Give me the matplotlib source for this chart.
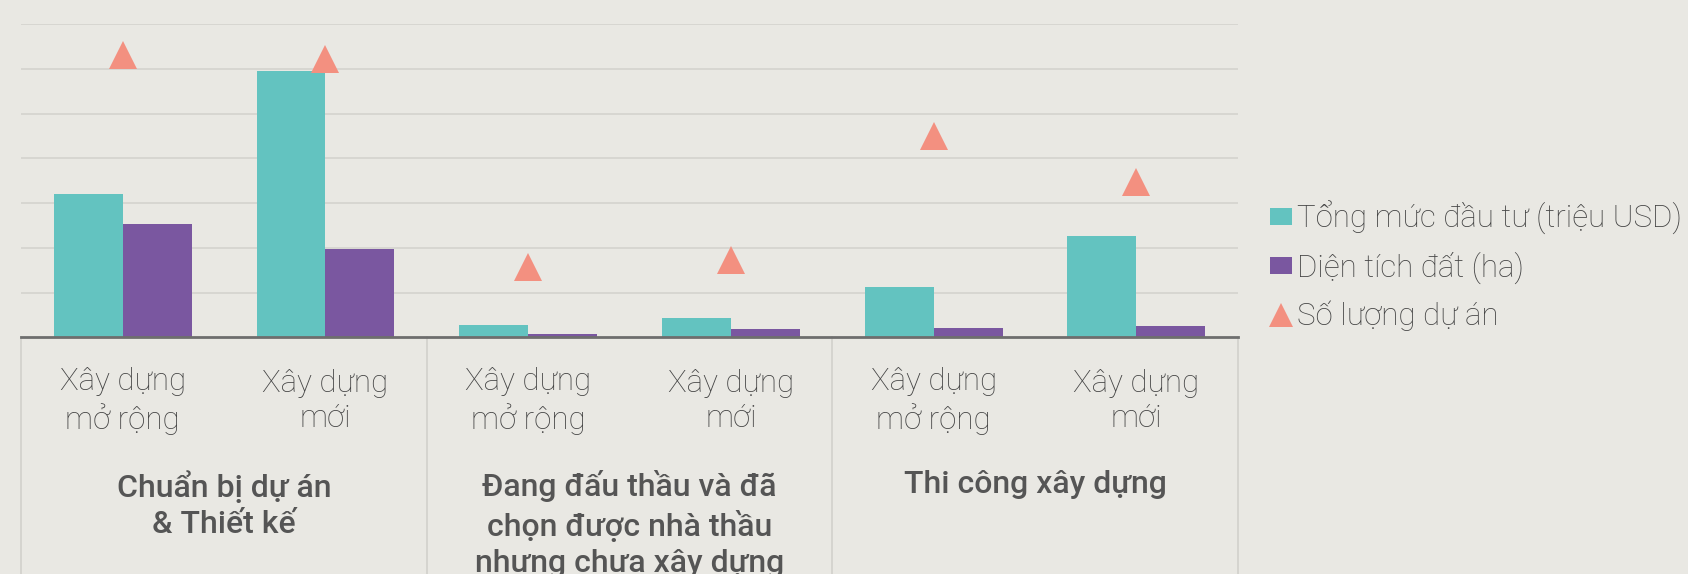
#!/usr/bin/env python3
"""Tong muc dau tu, dien tich dat va so luong du an theo giai doan."""

import matplotlib
matplotlib.use("Agg")
import matplotlib.pyplot as plt
import matplotlib.transforms as mtransforms
from matplotlib.lines import Line2D
from matplotlib.patches import Patch

# Gia tri doc tu hinh (don vi luoi)
loai_du_an = ["Xây dựng\nmở rộng", "Xây dựng\nmới"] * 3
giai_doan = [
    "Chuẩn bị dự án\n& Thiết kế",
    "Đang đấu thầu và đã\nchọn được nhà thầu\nnhưng chưa xây dựng",
    "Thi công xây dựng",
]
tong_muc_dau_tu = [3.20, 5.96, 0.27, 0.42, 1.12, 2.27]
dien_tich_dat = [2.53, 1.98, 0.07, 0.18, 0.20, 0.25]
so_luong_du_an = [6.32, 6.23, 1.58, 1.73, 4.49, 3.48]

TEN_SERIE = ["Tổng mức đầu tư (triệu USD)", "Diện tích đất (ha)", "Số lượng dự án"]
COR_TEAL = "#63c3c0"
COR_ROXO = "#7a57a0"
COR_SALMAO = "#f39080"
COR_FUNDO = "#e9e8e3"
COR_TEXTO = "#444444"

plt.rcParams["font.family"] = ["Roboto", "DejaVu Sans"]

fig = plt.figure(figsize=(16.88, 5.74), dpi=100, facecolor=COR_FUNDO)
ax = fig.add_axes([0.0127, 0.4124, 0.7205, 0.5456], facecolor=COR_FUNDO)

x = list(range(len(loai_du_an)))
larg = 0.34
ax.bar([i - larg / 2 for i in x], tong_muc_dau_tu, width=larg, color=COR_TEAL, zorder=2)
ax.bar([i + larg / 2 for i in x], dien_tich_dat, width=larg, color=COR_ROXO, zorder=2)
ax.plot(x, so_luong_du_an, linestyle="none", marker="^", markersize=20,
        color=COR_SALMAO, markeredgewidth=0, zorder=3)

ax.set_xlim(-0.5, 5.5)
ax.set_ylim(0, 7)
ax.set_yticks(range(1, 8))
ax.yaxis.grid(True, color="#d6d5d0", linewidth=1.3, zorder=0)
ax.tick_params(left=False, labelleft=False, bottom=False, labelbottom=False)
for lado in ["top", "right", "left"]:
    ax.spines[lado].set_visible(False)
ax.spines["bottom"].set_color("#6e6e6e")
ax.spines["bottom"].set_linewidth(2)
ax.spines["bottom"].set_zorder(4)

# Rotulos do eixo x em dois niveis
trans = mtransforms.blended_transform_factory(ax.transData, fig.transFigure)
for i, rotulo in enumerate(loai_du_an):
    ax.text(i, 1 - 401 / 574, rotulo, transform=trans, ha="center", va="center",
            fontsize=22.5, fontweight="light", color=COR_TEXTO, linespacing=1.27)
for g, rotulo in enumerate(giai_doan):
    ax.text(2 * g + 0.5, 1 - 470 / 574, rotulo, transform=trans, ha="center", va="top",
            fontsize=23, fontweight="medium", color="#555555", linespacing=1.3)

# Separadores verticais entre os grupos
transx = ax.get_xaxis_transform()
for xs in [-0.5, 1.5, 3.5, 5.5]:
    ax.plot([xs, xs], [0, -0.8], transform=transx, color="#d3d2cd",
            linewidth=1.3, clip_on=False, zorder=1)

handles = [
    Patch(facecolor=COR_TEAL, edgecolor="none"),
    Patch(facecolor=COR_ROXO, edgecolor="none"),
    Line2D([], [], linestyle="none", marker="^", markersize=17,
           color=COR_SALMAO, markeredgewidth=0),
]
leg = fig.legend(handles, TEN_SERIE, loc="center left", bbox_to_anchor=(0.745, 1 - 266 / 574),
                 frameon=False, fontsize=22.5, handlelength=0.7, handleheight=0.45,
                 handletextpad=0.15, labelspacing=0.53, borderaxespad=0)
for t in leg.get_texts():
    t.set_color(COR_TEXTO)
    t.set_fontweight("light")

fig.savefig("out.png", dpi=100, facecolor=COR_FUNDO)
